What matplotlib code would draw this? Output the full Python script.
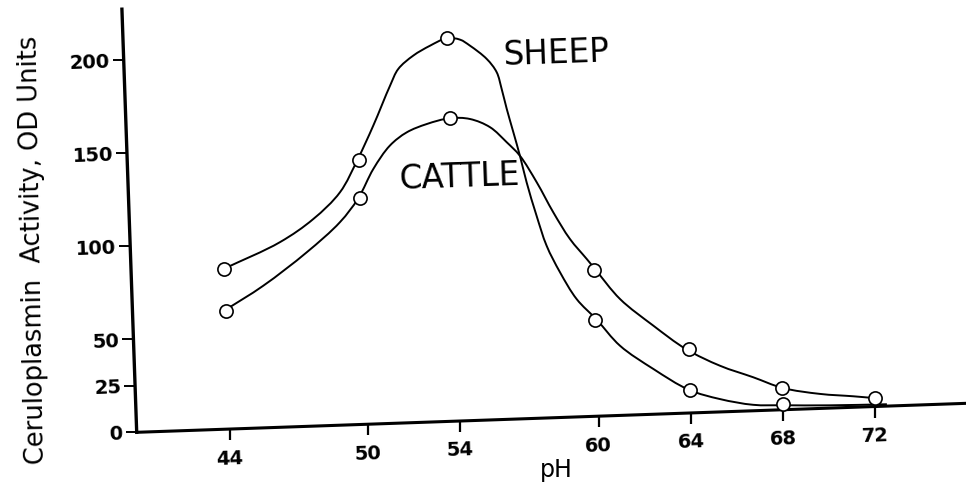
import matplotlib

matplotlib.use("Agg")
import matplotlib.pyplot as plt
import numpy as np
from matplotlib.patches import PathPatch
from matplotlib.path import Path
from matplotlib.transforms import Affine2D, offset_copy

# measured points (circles)
ph_points = [4.4, 5.0, 5.4, 6.0, 6.4, 6.8, 7.2]
sheep_points = [86.1, 142.3, 205.8, 51.8, 12.5, 3.1]
cattle_points = [63.7, 121.5, 162.8, 78.6, 34.4, 11.7, 4.6]

# hand drawn curves
sheep_curve_ph = [4.397, 4.645, 4.793, 4.913, 4.994, 5.067, 5.146, 5.184, 5.251, 5.325,
                  5.399, 5.456, 5.498, 5.569, 5.610, 5.629, 5.648, 5.673, 5.698, 5.723,
                  5.761, 5.800, 5.854, 5.922, 6.006, 6.103, 6.244, 6.394, 6.528, 6.671,
                  6.801, 7.0, 7.25]
sheep_curve_val = [86.1, 99.4, 111.2, 125.1, 142.3, 160.2, 181.4, 190.2, 197.1, 202.1,
                   205.8, 204.8, 201.4, 193.9, 186.6, 177.5, 166.7, 154.1, 141.3, 126.9,
                   108.8, 92.5, 78.0, 63.3, 51.8, 37.4, 24.3, 12.5, 6.9, 3.2,
                   2.4, 1.5, 1.0]
cattle_curve_ph = [4.394, 4.566, 4.760, 4.908, 4.991, 5.061, 5.136, 5.211, 5.299, 5.40,
                   5.487, 5.573, 5.643, 5.698, 5.767, 5.834, 5.902, 5.972, 6.009, 6.11,
                   6.25, 6.388, 6.533, 6.675, 6.801, 6.962, 7.106, 7.192]
cattle_curve_val = [63.7, 76.3, 93.5, 109.0, 121.5, 137.0, 149.2, 156.0, 160.1, 162.8,
                    162.0, 157.2, 148.8, 141.3, 126.7, 110.3, 95.7, 84.6, 78.6, 62.5,
                    47.6, 34.4, 24.8, 18.0, 11.7, 7.8, 5.9, 4.6]

x_ticks = [4.4, 5.0, 5.4, 6.0, 6.4, 6.8, 7.2]
x_tick_labels = ["44", "50", "54", "60", "64", "68", "72"]
y_ticks = [0, 25, 50, 100, 150, 200]
y_tick_labels = ["0", "25", "50", "100", "150", "200"]

X0, X1 = 3.996, 7.65
Y_TOP = 227.5
PX_X, PX_Y = 230.7, 1.861  # pixels per pH unit / per activity unit
TILT = 2.0  # the scanned page sits slightly rotated


def smooth_path(xs, ys):
    """Centripetal Catmull-Rom through the traced points, as cubic Bezier segments."""
    pts = np.column_stack([np.asarray(xs) * PX_X, np.asarray(ys) * PX_Y])
    pts = np.vstack([2 * pts[0] - pts[1], pts, 2 * pts[-1] - pts[-2]])
    verts = [pts[1]]
    codes = [Path.MOVETO]
    for i in range(1, len(pts) - 2):
        p0, p1, p2, p3 = pts[i - 1], pts[i], pts[i + 1], pts[i + 2]
        d0 = np.linalg.norm(p1 - p0) ** 0.5
        d1 = np.linalg.norm(p2 - p1) ** 0.5
        d2 = np.linalg.norm(p3 - p2) ** 0.5
        m1 = ((p1 - p0) / d0 - (p2 - p0) / (d0 + d1) + (p2 - p1) / d1) * d1
        m2 = ((p2 - p1) / d1 - (p3 - p1) / (d1 + d2) + (p3 - p2) / d2) * d1
        verts += [p1 + m1 / 3.0, p2 - m2 / 3.0, p2]
        codes += [Path.CURVE4] * 3
    verts = np.array(verts) / [PX_X, PX_Y]
    return Path(verts, codes)


fig = plt.figure(figsize=(9.66, 4.89), dpi=100)
ax = fig.add_axes([136.7 / 966, 55.7 / 489, (X1 - X0) * PX_X / 966, Y_TOP * PX_Y / 489])
ax.set_xlim(X0, X1)
ax.set_ylim(0, Y_TOP)
ax.set_axis_off()

ox, oy = ax.transData.transform((X0, 0))
tr = ax.transData + Affine2D().rotate_deg_around(ox, oy, TILT)

# axes lines
ax.plot([X0, X1], [0, 0], color="black", lw=2.2, transform=tr, clip_on=False,
        solid_capstyle="butt")
ax.plot([X0, X0], [0, Y_TOP], color="black", lw=2.4, transform=tr, clip_on=False,
        solid_capstyle="projecting")

# ticks
ax.plot([X0] * len(y_ticks), y_ticks, ls="none", marker=0, ms=8, mew=1.4,
        color="black", transform=tr, clip_on=False)
ax.plot(x_ticks, [0] * len(x_ticks), ls="none", marker=3, ms=8, mew=1.6,
        color="black", transform=tr, clip_on=False)

ylab_tr = offset_copy(tr, fig=fig, x=-14, y=-1, units="dots")
for val, lab in zip(y_ticks, y_tick_labels):
    ax.text(X0, val, lab, transform=ylab_tr, ha="right", va="center", fontsize=14,
            fontweight="bold", rotation=TILT, rotation_mode="anchor")

xlab_tr = offset_copy(tr, fig=fig, x=0, y=-34, units="dots")
for val, lab in zip(x_ticks, x_tick_labels):
    ax.text(val, 0, lab, transform=xlab_tr, ha="center", va="baseline", fontsize=14,
            fontweight="bold", rotation=TILT, rotation_mode="anchor")

# curves
for xs, ys in [(sheep_curve_ph, sheep_curve_val), (cattle_curve_ph, cattle_curve_val)]:
    ax.add_patch(PathPatch(smooth_path(xs, ys), fill=False, lw=1.4, edgecolor="black",
                           transform=tr, clip_on=False))

# circles
marker_style = dict(ls="none", marker="o", ms=9.5, mew=1.2, mfc="white", mec="black",
                    transform=tr, clip_on=False, zorder=5)
ax.plot(ph_points[:len(sheep_points)], sheep_points, **marker_style)
ax.plot(ph_points, cattle_points, **marker_style)

ax.text(5.871, 191.1, "SHEEP", transform=tr, ha="center", va="baseline", fontsize=23.5,
        rotation=TILT, rotation_mode="anchor")
ax.text(5.43, 126.4, "CATTLE", transform=tr, ha="center", va="baseline", fontsize=23.5,
        rotation=TILT, rotation_mode="anchor")

fig.text(556 / 966, 1 - 476.7 / 489, "pH", ha="center", va="baseline", fontsize=17)
fig.text(33.5 / 966, 1 - 250 / 489, "Ceruloplasmin  Activity, OD Units", ha="center",
         va="center", rotation=91, fontsize=18.5)

fig.savefig("out.png", dpi=100)
